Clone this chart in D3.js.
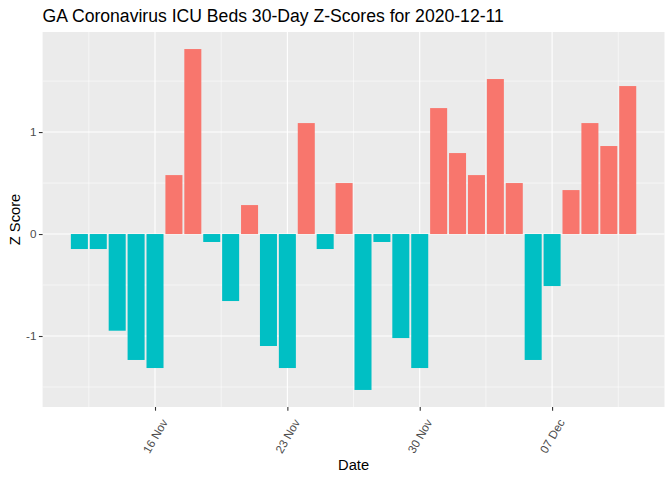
<!DOCTYPE html>
<html>
<head>
<meta charset="utf-8">
<script src="https://cdn.jsdelivr.net/npm/d3@7"></script>
<style>
  body { margin: 0; background: #fff; }
  text { font-family: "Liberation Sans", Arial, sans-serif; }
</style>
</head>
<body>
<div id="chart"></div>
<script>
const width = 672;
const height = 480;

// Daily dates, 12 Nov .. 11 Dec 2020
const dates = [
    "2020-11-12", "2020-11-13", "2020-11-14", "2020-11-15", "2020-11-16",
    "2020-11-17", "2020-11-18", "2020-11-19", "2020-11-20", "2020-11-21",
    "2020-11-22", "2020-11-23", "2020-11-24", "2020-11-25", "2020-11-26",
    "2020-11-27", "2020-11-28", "2020-11-29", "2020-11-30", "2020-12-01",
    "2020-12-02", "2020-12-03", "2020-12-04", "2020-12-05", "2020-12-06",
    "2020-12-07", "2020-12-08", "2020-12-09", "2020-12-10", "2020-12-11"
];
const zScores = [
    -0.147, -0.147, -0.948, -1.235, -1.314,
    0.578, 1.814, -0.078, -0.657, 0.284,
    -1.098, -1.314, 1.088, -0.147, 0.500,
    -1.529, -0.078, -1.020, -1.314, 1.235,
    0.794, 0.578, 1.520, 0.500, -1.235,
    -0.510, 0.431, 1.088, 0.863, 1.451
];
const xTickDates = ["2020-11-16", "2020-11-23", "2020-11-30", "2020-12-07"];
const xMinorDates = ["2020-11-12T12:00", "2020-11-19T12:00", "2020-11-26T12:00", "2020-12-03T12:00", "2020-12-10T12:00"];
const yTicks = [-1, 0, 1];
const yMinor = [-1.5, -0.5, 0.5, 1.5];

const parse = d3.utcParse("%Y-%m-%d");
const parseT = d3.utcParse("%Y-%m-%dT%H:%M");
const data = dates.map((d, i) => ({ date: parse(d), z: zScores[i] }));

const margin = { top: 32, right: 7.5, bottom: 73, left: 42.6 };
const day = 864e5;
const barW = 0.9;

// ggplot-style 5% expansion of the bar extents
const x0 = d3.min(data, d => +d.date) - barW / 2 * day;
const x1 = d3.max(data, d => +d.date) + barW / 2 * day;
const xPad = (x1 - x0) * 0.05;
const x = d3.scaleUtc()
    .domain([new Date(x0 - xPad), new Date(x1 + xPad)])
    .range([margin.left, width - margin.right]);

const yMin = Math.min(0, d3.min(zScores));
const yMax = Math.max(0, d3.max(zScores));
const yPad = (yMax - yMin) * 0.05;
const y = d3.scaleLinear()
    .domain([yMin - yPad, yMax + yPad])
    .range([height - margin.bottom, margin.top]);

const svg = d3.select("#chart")
    .append("svg")
    .attr("width", width)
    .attr("height", height);

// Panel background
svg.append("rect")
    .attr("x", margin.left)
    .attr("y", margin.top)
    .attr("width", width - margin.right - margin.left)
    .attr("height", height - margin.bottom - margin.top)
    .attr("fill", "#EBEBEB");

const grid = svg.append("g").attr("stroke", "white");

// Minor grid
grid.selectAll(".ymin").data(yMinor).enter().append("line")
    .attr("x1", margin.left).attr("x2", width - margin.right)
    .attr("y1", d => y(d)).attr("y2", d => y(d))
    .attr("stroke-width", 0.55);
grid.selectAll(".xmin").data(xMinorDates.map(parseT)).enter().append("line")
    .attr("y1", margin.top).attr("y2", height - margin.bottom)
    .attr("x1", d => x(d)).attr("x2", d => x(d))
    .attr("stroke-width", 0.55);

// Major grid
grid.selectAll(".ymaj").data(yTicks).enter().append("line")
    .attr("x1", margin.left).attr("x2", width - margin.right)
    .attr("y1", d => y(d)).attr("y2", d => y(d))
    .attr("stroke-width", 1.1);
grid.selectAll(".xmaj").data(xTickDates.map(parse)).enter().append("line")
    .attr("y1", margin.top).attr("y2", height - margin.bottom)
    .attr("x1", d => x(d)).attr("x2", d => x(d))
    .attr("stroke-width", 1.1);

// Bars
svg.selectAll(".bar")
    .data(data)
    .enter().append("rect")
    .attr("class", "bar")
    .attr("x", d => x(new Date(+d.date - barW / 2 * day)))
    .attr("width", d => x(new Date(+d.date + barW / 2 * day)) - x(new Date(+d.date - barW / 2 * day)))
    .attr("y", d => y(Math.max(0, d.z)))
    .attr("height", d => Math.abs(y(d.z) - y(0)))
    .attr("fill", d => d.z > 0 ? "#F8766D" : "#00BFC4");

// Axes
const xAxis = d3.axisBottom(x)
    .tickValues(xTickDates.map(parse))
    .tickFormat(d3.utcFormat("%d %b"))
    .tickSize(3.7)
    .tickPadding(2);
const gx = svg.append("g")
    .attr("transform", `translate(0,${height - margin.bottom})`)
    .call(xAxis);
gx.select(".domain").remove();
gx.selectAll(".tick line").attr("stroke", "#333333").attr("stroke-width", 1.1);
gx.selectAll(".tick text")
    .attr("fill", "#4D4D4D")
    .attr("font-size", "11.7px")
    .attr("text-anchor", "end")
    .attr("dy", "0.35em")
    .attr("transform", "translate(9,13) rotate(-60)")
    .attr("y", 0)
    .attr("x", 0);

const yAxis = d3.axisLeft(y)
    .tickValues(yTicks)
    .tickFormat(d => String(d))
    .tickSize(3.7)
    .tickPadding(2.5);
const gy = svg.append("g")
    .attr("transform", `translate(${margin.left},0)`)
    .call(yAxis);
gy.select(".domain").remove();
gy.selectAll(".tick line").attr("stroke", "#333333").attr("stroke-width", 1.1);
gy.selectAll(".tick text")
    .attr("fill", "#4D4D4D")
    .attr("font-size", "11.7px");

// Titles
svg.append("text")
    .attr("x", margin.left)
    .attr("y", 22)
    .attr("font-size", "17.6px")
    .attr("fill", "black")
    .text("GA Coronavirus ICU Beds 30-Day Z-Scores for 2020-12-11");

svg.append("text")
    .attr("x", (margin.left + width - margin.right) / 2)
    .attr("y", 470)
    .attr("text-anchor", "middle")
    .attr("font-size", "14.7px")
    .attr("fill", "black")
    .text("Date");

svg.append("text")
    .attr("transform", `translate(19.5,${(margin.top + height - margin.bottom) / 2}) rotate(-90)`)
    .attr("text-anchor", "middle")
    .attr("font-size", "14.7px")
    .attr("fill", "black")
    .text("Z Score");
</script>
</body>
</html>
